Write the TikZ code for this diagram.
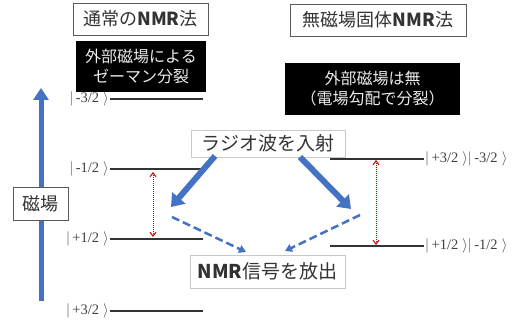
\documentclass[tikz,border=0pt]{standalone}
\usepackage{fontspec}
\setmainfont{Liberation Serif}
\newfontfamily\jp{Noto Sans CJK JP}
\usetikzlibrary{arrows.meta}
\definecolor{myblue}{RGB}{68,114,196}
\definecolor{myred}{RGB}{192,0,0}
\definecolor{boxgray}{RGB}{90,90,90}
\definecolor{lightgray}{RGB}{200,200,200}
\tikzset{
  titlebox/.style={draw=boxgray, line width=0.8pt, fill=white, inner sep=0pt, font=\jp\fontsize{18}{20}\selectfont, text=black!80},
  blackbox/.style={fill=black, inner sep=0pt, align=center, text=white!92!black, font=\jp\fontsize{16}{20}\selectfont},
  lightbox/.style={draw=lightgray, line width=0.6pt, fill=white, inner sep=0pt, font=\jp\fontsize{19}{20}\selectfont, text=black!80},
  ket/.style={inner sep=1pt, font=\fontsize{14.5}{16}\selectfont, text=black!75},
  level/.style={line width=1.2pt, black!80},
  bigarrow/.style={myblue, line width=6pt, -{Triangle[width=17pt,length=12pt]}},
  dasharrow/.style={myblue, line width=2.5pt, dash pattern=on 8pt off 4pt, -{Triangle[width=8pt,length=7pt]}},
  redarrow/.style={myred, line width=1pt, dash pattern=on 1pt off 1pt, {Straight Barb[length=4pt,width=6pt]}-{Straight Barb[length=4pt,width=6pt]}}
}
\begin{document}
\begin{tikzpicture}[x=1pt,y=-1pt]
\useasboundingbox (0,0) rectangle (523,320);
% field arrow
\coordinate (fb) at (41,301);
\coordinate (ft) at (41,88);
\draw[myblue, line width=5pt, -{Triangle[width=15pt,length=12pt]}] (fb) -- (ft);
\node[titlebox, minimum width=55pt, minimum height=33pt] (field) at (40.5,203.5) {磁場};

% titles
\node[titlebox, minimum width=135pt, minimum height=32pt] (t1) at (140.5,19) {通常の\textbf{NMR}法};
\node[titlebox, minimum width=176pt, minimum height=32pt] (t2) at (378,20) {無磁場固体\textbf{NMR}法};
\node[blackbox, minimum width=130pt, minimum height=51pt] (b1) at (141,66.5) {外部磁場による\\ゼーマン分裂};
\node[blackbox, minimum width=175pt, minimum height=52pt] (b2) at (372.5,89) {外部磁場は無\\（電場勾配で分裂）};

% left levels
\node[ket, anchor=east] (k1) at (110,99) {$|$\,-3/2\;$\rangle$};
\node[ket, anchor=east] (k2) at (110,169) {$|$\,-1/2\;$\rangle$};
\node[ket, anchor=east] (k3) at (110,239) {$|$\,+1/2\;$\rangle$};
\node[ket, anchor=east] (k4) at (110,311) {$|$\,+3/2\;$\rangle$};
\coordinate (e1) at (203,99);
\coordinate (e2) at (203,169);
\coordinate (e3) at (203,239);
\coordinate (e4) at (203,311);
\draw[level] (k1.east) -- (e1);
\draw[level] (k2.east) -- (e2);
\draw[level] (k3.east) -- (e3);
\draw[level] (k4.east) -- (e4);
\coordinate (r1t) at (153,172);
\coordinate (r1b) at (153,237);
\draw[redarrow] (r1t) -- (r1b);

% right levels
\coordinate (s1) at (330,159);
\coordinate (s2) at (330,246);
\node[ket, anchor=west] (q1) at (424,159) {$|$\,+3/2\;$\rangle$$|$\,-3/2\;$\rangle$};
\node[ket, anchor=west] (q2) at (424,246) {$|$\,+1/2\;$\rangle$$|$\,-1/2\;$\rangle$};
\draw[level] (s1) -- (q1.west);
\draw[level] (s2) -- (q2.west);
\coordinate (r2t) at (376,160);
\coordinate (r2b) at (376,245);
\draw[redarrow] (r2t) -- (r2b);

% central boxes
\node[lightbox, minimum width=154pt, minimum height=27pt] (rf) at (268,143.5) {ラジオ波を入射};
\node[lightbox, minimum width=155pt, minimum height=33pt] (sig) at (267.5,271.5) {\textbf{NMR}信号を放出};

% arrows
\coordinate (la) at (215,156);
\coordinate (lt) at (171,207);
\coordinate (ra) at (300,157);
\coordinate (rt) at (351,209);
\draw[bigarrow] (la) -- (lt);
\draw[bigarrow] (ra) -- (rt);
\coordinate (ld) at (172,217);
\coordinate (ldt) at (246,252);
\coordinate (rd) at (360,215);
\coordinate (rdt) at (285,251);
\draw[dasharrow] (ld) -- (ldt);
\draw[dasharrow] (rd) -- (rdt);
\end{tikzpicture}
\end{document}
